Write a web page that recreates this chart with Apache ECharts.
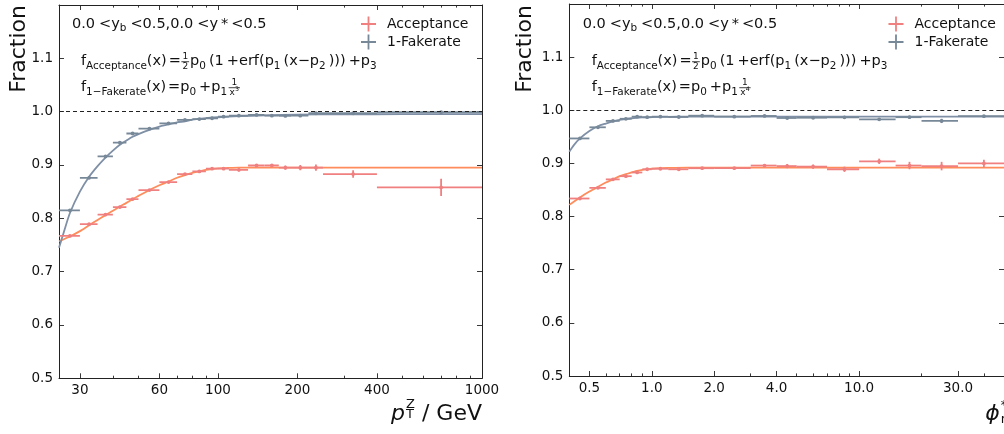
<!DOCTYPE html>
<html>
<head>
<meta charset="utf-8">
<script src="https://cdn.jsdelivr.net/npm/echarts@6/dist/echarts.min.js"></script>
<style>
  html, body { margin: 0; padding: 0; background: #ffffff; }
  #chart { width: 1004px; height: 434px; }
</style>
</head>
<body>
<div id="chart"></div>
<script>
// ---- p_T^Z panel -------------------------------------------------------
const ptEdges = [25, 30, 35, 40, 45, 50, 60, 70, 80, 90, 100, 110, 130, 150, 170, 190, 220, 250, 400, 1000];
const ptAcc = [0.767, 0.789, 0.807, 0.821, 0.836, 0.853, 0.868, 0.883, 0.888, 0.893, 0.893, 0.891, 0.899, 0.899, 0.895, 0.895, 0.895, 0.883, 0.858];
const ptAccErr = [0.002, 0.002, 0.002, 0.002, 0.002, 0.002, 0.002, 0.002, 0.002, 0.002, 0.002, 0.003, 0.003, 0.003, 0.004, 0.005, 0.006, 0.007, 0.016];
const ptFake = [0.815, 0.876, 0.916, 0.942, 0.959, 0.968, 0.978, 0.9845, 0.986, 0.9876, 0.9906, 0.9925, 0.9938, 0.9925, 0.992, 0.9925, 0.997, 0.997, 0.9989];
const ptFakeErr = [0.002, 0.002, 0.002, 0.002, 0.002, 0.002, 0.0015, 0.0015, 0.0015, 0.0015, 0.0015, 0.0015, 0.0015, 0.0015, 0.0015, 0.0015, 0.002, 0.002, 0.002];
const ptAccFitX = [25, 27.5, 30, 32.5, 35, 37.5, 40, 42.5, 45, 47.5, 50, 55, 60, 65, 70, 75, 80, 85, 90, 95, 100, 110, 120, 150, 1000];
const ptAccFitY = [0.757, 0.766, 0.776, 0.787, 0.797, 0.806, 0.814, 0.822, 0.829, 0.836, 0.842, 0.853, 0.862, 0.869, 0.876, 0.881, 0.885, 0.888, 0.891, 0.8925, 0.8935, 0.8945, 0.895, 0.895, 0.895];
const ptFakeFitX = [25, 26, 27.5, 30, 32.5, 35, 37.5, 40, 42.5, 45, 47.5, 50, 55, 60, 65, 70, 75, 80, 90, 100, 120, 150, 200, 300, 500, 1000];
const ptFakeFitY = [0.745, 0.772, 0.810, 0.850, 0.878, 0.898, 0.914, 0.927, 0.938, 0.946, 0.953, 0.958, 0.966, 0.972, 0.976, 0.980, 0.982, 0.985, 0.988, 0.9895, 0.9915, 0.993, 0.9943, 0.995, 0.9953, 0.9955];
const ptMajorTicks = [30, 60, 100, 200, 400, 1000];
const ptMinorTicks = [40, 50, 70, 80, 90, 300, 500, 600, 700, 800, 900];

// ---- phi*_eta panel ----------------------------------------------------
const phiEdges = [0.4, 0.5, 0.6, 0.7, 0.8, 0.9, 1.0, 1.2, 1.5, 2.0, 3.0, 4.0, 5.0, 7.0, 10, 15, 20, 30, 50];
const phiAcc = [0.834, 0.854, 0.870, 0.876, 0.883, 0.889, 0.890, 0.889, 0.891, 0.891, 0.896, 0.895, 0.894, 0.889, 0.904, 0.896, 0.895, 0.900];
const phiAccErr = [0.002, 0.002, 0.002, 0.002, 0.002, 0.002, 0.002, 0.003, 0.002, 0.002, 0.003, 0.004, 0.004, 0.005, 0.005, 0.007, 0.008, 0.007];
const phiFake = [0.947, 0.968, 0.980, 0.984, 0.988, 0.987, 0.988, 0.9874, 0.9898, 0.988, 0.9893, 0.9855, 0.986, 0.9868, 0.983, 0.987, 0.980, 0.989];
const phiFakeErr = [0.002, 0.002, 0.0015, 0.0015, 0.0015, 0.0015, 0.0015, 0.0015, 0.0015, 0.0015, 0.0015, 0.002, 0.002, 0.002, 0.002, 0.002, 0.004, 0.002];
const phiAccFitX = [0.4, 0.45, 0.5, 0.55, 0.6, 0.65, 0.7, 0.75, 0.8, 0.85, 0.9, 0.95, 1.0, 1.1, 1.2, 1.5, 2, 5, 50];
const phiAccFitY = [0.822, 0.836, 0.847, 0.856, 0.864, 0.870, 0.876, 0.880, 0.883, 0.886, 0.888, 0.889, 0.890, 0.891, 0.8915, 0.892, 0.892, 0.892, 0.892];
const phiFakeFitX = [0.4, 0.42, 0.45, 0.5, 0.55, 0.6, 0.65, 0.7, 0.8, 0.9, 1.0, 1.2, 1.5, 2, 5, 50];
const phiFakeFitY = [0.922, 0.934, 0.947, 0.961, 0.970, 0.975, 0.979, 0.982, 0.985, 0.9865, 0.9872, 0.9877, 0.988, 0.988, 0.988, 0.988];
const phiMajorTicks = [0.5, 1, 2, 4, 10, 30];
const phiMinorTicks = [0.6, 0.7, 0.8, 0.9, 3, 5, 6, 7, 8, 9, 20, 40, 50];

const yTicksInterval = 0.1;

// ---- styling -----------------------------------------------------------
const FONT = '"DejaVu Sans", sans-serif';
const AXIS = '#222222';
const TEXT = '#111111';
const ACC_PT = '#f08080';
const ACC_FIT = '#ff8c5a';
const FAKE_PT = '#778899';
const FAKE_FIT = '#7f90a6';
const CROSS = 'path://M0,6.6H15V8.4H0Z M6.6,0H8.4V15H6.6Z';
const MATH_SIZE = 14.5;

const GRIDS = [
  { left: 59, top: 5, width: 423, height: 373.3 },
  { left: 569.3, top: 4, width: 439, height: 372 }
];

function binned(edges, vals, errs) {
  return vals.map((v, i) => [edges[i], edges[i + 1], v, errs[i]]);
}
function zip(xs, ys) { return xs.map((x, i) => [x, ys[i]]); }

// horizontal bar = bin width, vertical bar = uncertainty, dot at bin centre
function errorBars(color) {
  return function (params, api) {
    const x0 = api.value(0), x1 = api.value(1), y = api.value(2), e = api.value(3);
    const xc = (x0 + x1) / 2;
    const pL = api.coord([x0, y]), pR = api.coord([x1, y]);
    const pT = api.coord([xc, y + e]), pB = api.coord([xc, y - e]);
    const pC = api.coord([xc, y]);
    const st = { stroke: color, lineWidth: 1.8 };
    return {
      type: 'group',
      children: [
        { type: 'line', shape: { x1: pL[0], y1: pL[1], x2: pR[0], y2: pR[1] }, style: st },
        { type: 'line', shape: { x1: pT[0], y1: pT[1], x2: pB[0], y2: pB[1] }, style: st },
        { type: 'circle', shape: { cx: pC[0], cy: pC[1], r: 1.9 }, style: { fill: color } }
      ]
    };
  };
}

function xAxesFor(grid, min, max, major, minor, fmt) {
  const base = {
    type: 'log', logBase: 10, gridIndex: grid, min: min, max: max,
    splitLine: { show: false }, axisLine: { show: false, onZero: false }
  };
  const tickLine = { color: AXIS, width: 0.9 };
  const line = { show: true, onZero: false, lineStyle: { color: AXIS, width: 1 } };
  return [
    Object.assign({}, base, {
      position: 'bottom', axisLine: line,
      axisTick: { inside: true, length: 5, customValues: major, lineStyle: tickLine },
      axisLabel: { customValues: major, formatter: fmt, margin: 5, fontFamily: FONT, fontSize: 13.5, color: TEXT }
    }),
    Object.assign({}, base, {
      position: 'bottom',
      axisTick: { inside: true, length: 2.6, customValues: minor, lineStyle: tickLine },
      axisLabel: { show: false }
    }),
    Object.assign({}, base, {
      position: 'top', axisLine: line,
      axisTick: { inside: true, length: 5, customValues: major, lineStyle: tickLine },
      axisLabel: { show: false }
    }),
    Object.assign({}, base, {
      position: 'top',
      axisTick: { inside: true, length: 2.6, customValues: minor, lineStyle: tickLine },
      axisLabel: { show: false }
    })
  ];
}

function yAxesFor(grid) {
  const base = {
    type: 'value', gridIndex: grid, min: 0.5, max: 1.2, interval: yTicksInterval,
    splitLine: { show: false }
  };
  const line = { show: true, onZero: false, lineStyle: { color: AXIS, width: 1 } };
  const tick = { inside: true, length: 5, lineStyle: { color: AXIS, width: 0.9 } };
  return [
    Object.assign({}, base, {
      position: 'left', axisLine: line, axisTick: tick,
      axisLabel: {
        formatter: v => v.toFixed(1), margin: 6, showMaxLabel: false,
        fontFamily: FONT, fontSize: 13.5, color: TEXT
      }
    }),
    Object.assign({}, base, {
      position: 'right', axisLine: line, axisTick: tick, axisLabel: { show: false }
    })
  ];
}

function panelSeries(xi, yi, acc, fake, accFit, fakeFit) {
  return [
    {
      type: 'line', name: 'Acceptance fit', xAxisIndex: xi, yAxisIndex: yi,
      data: accFit, showSymbol: false, smooth: 0.25, z: 2,
      lineStyle: { color: ACC_FIT, width: 1.8 }, itemStyle: { color: ACC_FIT }
    },
    {
      type: 'line', name: '1-Fakerate fit', xAxisIndex: xi, yAxisIndex: yi,
      data: fakeFit, showSymbol: false, smooth: 0.25, z: 2,
      lineStyle: { color: FAKE_FIT, width: 1.8 }, itemStyle: { color: FAKE_FIT },
      markLine: {
        silent: true, symbol: 'none', label: { show: false },
        lineStyle: { type: [4, 3], color: AXIS, width: 1 },
        data: [{ yAxis: 1.0 }]
      }
    },
    {
      type: 'custom', name: 'Acceptance', xAxisIndex: xi, yAxisIndex: yi,
      data: acc, encode: { x: [0, 1], y: [2] }, renderItem: errorBars(ACC_PT),
      itemStyle: { color: ACC_PT }, z: 3, clip: true
    },
    {
      type: 'custom', name: '1-Fakerate', xAxisIndex: xi, yAxisIndex: yi,
      data: fake, encode: { x: [0, 1], y: [2] }, renderItem: errorBars(FAKE_PT),
      itemStyle: { color: FAKE_PT }, z: 3, clip: true
    }
  ];
}

// ---- math-style annotations built from text pieces ---------------------
const measureCtx = document.createElement('canvas').getContext('2d');
function textWidth(t, size, italic) {
  measureCtx.font = (italic ? 'italic ' : '') + size + 'px "DejaVu Sans"';
  return measureCtx.measureText(t).width;
}
function piece(t, x, baseline, size, italic) {
  return {
    type: 'text', x: x, y: baseline - 0.346 * size, silent: true, z: 10,
    style: {
      text: t, font: (italic ? 'italic ' : '') + size + 'px "DejaVu Sans", sans-serif',
      fill: TEXT, align: 'left', verticalAlign: 'middle'
    }
  };
}
// tokens: plain string | {it} italic | {g: gap} | {sub} | {sup} | {subsup: [sub, sup]} | {frac: [num, den, denSup]}
function layoutMath(tokens, s) {
  const items = [];
  const sc = 0.72;
  let x = 0;
  tokens.forEach(tk => {
    if (typeof tk === 'string') {
      items.push({ t: tk, x: x, dy: 0, size: s });
      x += textWidth(tk, s);
    } else if (tk.it !== undefined) {
      items.push({ t: tk.it, x: x, dy: 0, size: s, it: true });
      x += textWidth(tk.it, s, true);
    } else if (tk.g !== undefined) {
      x += tk.g;
    } else if (tk.sub !== undefined) {
      const ss = s * sc;
      items.push({ t: tk.sub, x: x, dy: 0.2 * s, size: ss });
      x += textWidth(tk.sub, ss);
    } else if (tk.sup !== undefined) {
      const ss = s * sc;
      items.push({ t: tk.sup, x: x, dy: -0.4 * s, size: ss });
      x += textWidth(tk.sup, ss);
    } else if (tk.subsup) {
      const ss = tk.size || s * sc;
      items.push({ t: tk.subsup[0], x: x + 1, dy: tk.dsub, size: ss });
      items.push({ t: tk.subsup[1], x: x + 1, dy: tk.dsup, size: ss });
      x += 1 + Math.max(textWidth(tk.subsup[0], ss), textWidth(tk.subsup[1], ss));
    } else if (tk.frac) {
      const fs = s * 0.62;
      const wn = textWidth(tk.frac[0], fs);
      const supS = fs * 0.7;
      const wdMain = textWidth(tk.frac[1], fs);
      const wd = wdMain + (tk.frac[2] ? textWidth(tk.frac[2], supS) : 0);
      const W = Math.max(wn, wd) + 2;
      const axis = -0.33 * s;
      items.push({ bar: true, x: x + 0.5, w: W, dy: axis });
      items.push({ t: tk.frac[0], x: x + 0.5 + (W - wn) / 2, dy: axis - 1.6, size: fs });
      const dx = x + 0.5 + (W - wd) / 2;
      const denBase = axis + 1.6 + 0.73 * fs;
      items.push({ t: tk.frac[1], x: dx, dy: denBase, size: fs });
      if (tk.frac[2]) items.push({ t: tk.frac[2], x: dx + wdMain, dy: denBase - 0.45 * fs, size: supS });
      x += W + 1.5;
    }
  });
  return { items: items, width: x };
}
function mathElements(x0, baseline, tokens, s, align) {
  const lay = layoutMath(tokens, s);
  const start = align === 'right' ? x0 - lay.width : x0;
  return lay.items.map(it => {
    if (it.bar) {
      return {
        type: 'line', silent: true, z: 10,
        shape: { x1: start + it.x, y1: baseline + it.dy, x2: start + it.x + it.w, y2: baseline + it.dy },
        style: { stroke: TEXT, lineWidth: 0.8 }
      };
    }
    return piece(it.t, start + it.x, baseline + it.dy, it.size, it.it);
  });
}

const regionTokens = ['0.0', { g: 4 }, '<y', { sub: 'b' }, { g: 4 }, '<0.5,0.0', { g: 4 }, '<y', { g: 3 }, '*', { g: 3 }, '<0.5'];
const accTokens = ['f', { sub: 'Acceptance' }, '(x)', { g: 2 }, '=', { frac: ['1', '2'] }, 'p', { sub: '0' }, { g: 3 },
  '(1', { g: 3 }, '+erf(p', { sub: '1' }, { g: 3 }, '(x\u2212p', { sub: '2' }, { g: 3 }, ')))', { g: 3 }, '+p', { sub: '3' }];
const fakeTokens = (pow) => ['f', { sub: '1\u2212Fakerate' }, '(x)', { g: 2 }, '=p', { sub: '0' }, { g: 3 }, '+p', { sub: '1' }, { g: 1 },
  { frac: ['1', 'x', pow] }];

function panelText(dx, pow, xTitleTokens, xTitleRight, fracX) {
  let els = [];
  els = els.concat(mathElements(72 + dx, 29.3, regionTokens, MATH_SIZE, 'left'));
  els = els.concat(mathElements(81 + dx, 66.5, accTokens, MATH_SIZE, 'left'));
  els = els.concat(mathElements(81 + dx, 92.5, fakeTokens(pow), MATH_SIZE, 'left'));
  els = els.concat(mathElements(xTitleRight, 421.7, xTitleTokens, 22, 'right'));
  els.push({
    type: 'text', x: fracX, y: 5, rotation: Math.PI / 2, silent: true,
    style: { text: 'Fraction', font: '22px "DejaVu Sans", sans-serif', fill: TEXT, align: 'right', verticalAlign: 'middle' }
  });
  return els;
}

const ptTitle = [{ it: 'p' }, { subsup: ['T', 'Z'], size: 13, dsub: -2.5, dsup: -13 }, ' / GeV'];
const phiTitle = [{ it: '\u03D5' }, { subsup: ['\u03B7', '*'], size: 13, dsub: 2, dsup: -12 }];

const graphics = []
  .concat(panelText(0, '3', ptTitle, 482, 19))
  .concat(panelText(510.7, '4', phiTitle, 1009, 525.5));

function legendAt(left) {
  return {
    data: ['Acceptance', '1-Fakerate'], orient: 'vertical', left: left, top: 16.5, padding: 0,
    itemWidth: 15, itemHeight: 15, itemGap: 3, icon: CROSS, selectedMode: false,
    textStyle: { fontFamily: FONT, fontSize: 14, color: TEXT, padding: [0, 0, 0, 6] }
  };
}

const chart = echarts.init(document.getElementById('chart'), null, { renderer: 'canvas' });
chart.setOption({
  animation: false,
  backgroundColor: '#ffffff',
  grid: GRIDS,
  xAxis: []
    .concat(xAxesFor(0, 25, 1000, ptMajorTicks, ptMinorTicks, v => String(Math.round(v))))
    .concat(xAxesFor(1, 0.4, 50, phiMajorTicks, phiMinorTicks, v => Number(v).toFixed(1))),
  yAxis: [].concat(yAxesFor(0)).concat(yAxesFor(1)),
  legend: [legendAt(361), legendAt(888.5)],
  series: []
    .concat(panelSeries(0, 0, binned(ptEdges, ptAcc, ptAccErr), binned(ptEdges, ptFake, ptFakeErr),
      zip(ptAccFitX, ptAccFitY), zip(ptFakeFitX, ptFakeFitY)))
    .concat(panelSeries(4, 2, binned(phiEdges, phiAcc, phiAccErr), binned(phiEdges, phiFake, phiFakeErr),
      zip(phiAccFitX, phiAccFitY), zip(phiFakeFitX, phiFakeFitY))),
  graphic: graphics
});
</script>
</body>
</html>
